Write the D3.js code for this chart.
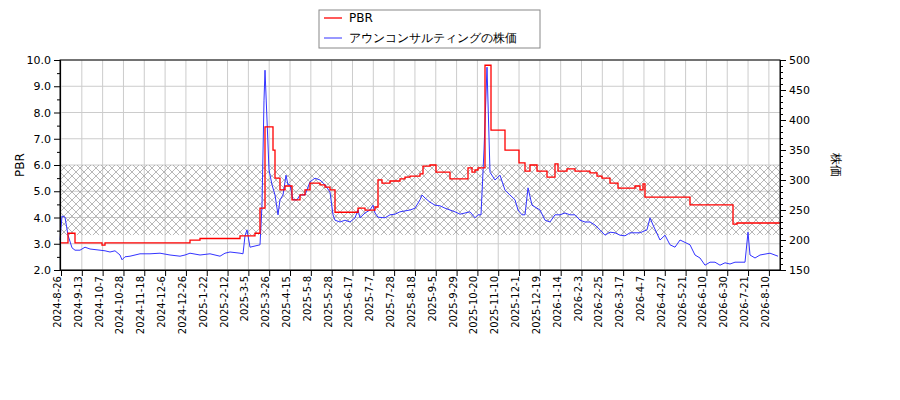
<!DOCTYPE html><html><head><meta charset="utf-8"><script src="https://cdn.jsdelivr.net/npm/d3@7"></script>
<style>body{margin:0;background:#fff}text{font-family:"DejaVu Sans";}</style></head><body><svg id="c" width="900" height="400"></svg><script>
const tickLabels=["2024-8-26","2024-9-13","2024-10-7","2024-10-28","2024-11-18","2024-12-6","2024-12-26","2025-1-22","2025-2-12","2025-3-5","2025-3-26","2025-4-15","2025-5-8","2025-5-28","2025-6-17","2025-7-7","2025-7-28","2025-8-18","2025-9-5","2025-9-29","2025-10-20","2025-11-10","2025-12-1","2025-12-19","2026-1-14","2026-2-3","2026-2-25","2026-3-17","2026-4-7","2026-4-27","2026-5-21","2026-6-10","2026-6-30","2026-7-21","2026-8-10"];
// [session position, price]
const priceData=[[0,200],[2,240],[5,238],[8,208],[12,187],[15,183],[20,183],[25,188],[30,185],[40,183],
[45,182],[50,180],[55,182],[60,175],[62,167],[65,172],[70,173],[80,177],[90,177],[100,178],
[110,175],[120,173],[125,175],[130,178],[140,175],[150,177],[160,173],[165,178],[170,180],[180,178],
[183,177],[185,207],[187,217],[190,188],[195,190],[200,192],[202,258],[204,433],[205,483],[207,400],
[209,317],[212,292],[215,275],[218,242],[220,267],[223,275],[226,308],[228,292],[230,292],[233,267],
[237,267],[240,275],[245,275],[250,297],[255,303],[260,300],[265,292],[270,280],[273,242],[275,233],
[280,230],[285,233],[290,230],[295,237],[298,250],[300,237],[305,245],[310,250],[313,258],[315,245],
[318,238],[325,237],[330,242],[335,243],[340,247],[350,250],[355,253],[360,267],[362,275],[365,270],
[370,263],[375,258],[380,257],[385,253],[390,250],[395,247],[400,243],[405,245],[410,247],[415,237],
[418,242],[421,242],[424,350],[427,488],[430,313],[435,300],[440,308],[445,283],[450,275],[455,267],
[458,250],[462,242],[465,242],[468,287],[472,258],[480,250],[485,233],[490,230],[495,242],[500,242],
[505,245],[510,242],[515,242],[520,233],[525,230],[530,230],[535,225],[540,217],[545,208],[550,213],
[555,212],[560,208],[565,207],[570,212],[580,212],[587,217],[590,237],[593,225],[600,200],[605,208],
[610,192],[615,188],[620,200],[630,192],[635,175],[640,170],[645,158],[650,163],[655,163],[660,158],
[665,162],[670,160],[675,163],[685,163],[688,213],[690,175],[695,170],[700,175],[710,178],[718,173]];
// [session position, PBR]
const pbrData=[[0,3.03],[8,3.4],[15,3.03],[42,2.95],[45,3.03],[130,3.14],[140,3.2],[180,3.3],[195,3.4],[200,4.36],
[205,7.45],[213,6.57],[215,5.5],[220,5.05],[225,5.2],[232,4.67],[240,4.86],[245,5.05],[250,5.31],[260,5.24],
[265,5.16],[270,5.05],[275,4.2],[298,4.36],[305,4.28],[315,4.4],[318,5.43],[322,5.31],[330,5.39],[340,5.47],
[345,5.54],[350,5.58],[360,5.66],[363,5.96],[370,6.0],[376,5.73],[390,5.47],[408,5.89],[412,5.73],[415,5.81],
[418,5.89],[425,9.8],[431,7.33],[445,6.57],[459,6.08],[465,5.77],[470,6.0],[477,5.77],[487,5.54],[495,6.04],
[498,5.77],[507,5.85],[515,5.77],[530,5.7],[537,5.58],[542,5.5],[550,5.31],[558,5.12],[575,5.2],[580,5.05],
[583,5.28],[585,4.78],[630,4.48],[673,3.75],[677,3.79],[720,3.79]];
const bandPbr=[3.33,6.0];
const L=60,R=780,T=60,B=270;
const svg=d3.select("#c");
const x=d3.scaleLinear().domain([0,720]).range([L,R]);
const tickPos=tickLabels.map((d,i)=>1+i*20.82);
const yL=d3.scaleLinear().domain([2,10]).range([B,T]);
const yR=d3.scaleLinear().domain([150,500]).range([B,T]);
const defs=svg.append("defs");
const pat=defs.append("pattern").attr("id","h").attr("width",8).attr("height",8).attr("patternUnits","userSpaceOnUse");
pat.append("path").attr("d","M0,0L8,8M8,0L0,8").attr("stroke","#999").attr("stroke-width",0.7);
const g=svg.append("g");
g.selectAll(".vx").data(tickPos).join("line").attr("x1",d=>x(d)).attr("x2",d=>x(d)).attr("y1",T).attr("y2",B).attr("stroke","#ccc");
g.selectAll(".hy").data(d3.range(2,10.1,1)).join("line").attr("x1",L).attr("x2",R).attr("y1",d=>yL(d)).attr("y2",d=>yL(d)).attr("stroke","#ccc");
svg.append("rect").attr("x",L).attr("width",R-L).attr("y",yL(bandPbr[1])).attr("height",yL(bandPbr[0])-yL(bandPbr[1])).attr("fill","url(#h)");
svg.append("path").datum(priceData).attr("fill","none").attr("stroke","#3333ff").attr("stroke-width",1)
 .attr("d",d3.line().x(d=>x(d[0])).y(d=>yR(d[1])));
svg.append("path").datum(pbrData).attr("fill","none").attr("stroke","red").attr("stroke-width",1.3)
 .attr("d",d3.line().curve(d3.curveStepAfter).x(d=>x(d[0])).y(d=>yL(d[1])));
svg.append("rect").attr("x",L).attr("y",T).attr("width",R-L).attr("height",B-T).attr("fill","none").attr("stroke","#000");
const ax=svg.append("g").attr("transform",`translate(0,${B})`).call(d3.axisBottom(x).tickValues(tickPos).tickFormat((d,i)=>tickLabels[i]).tickSizeOuter(0));
ax.selectAll("text").attr("transform","rotate(-90)").attr("text-anchor","end").attr("x",-6).attr("y",-4).attr("dy","0.35em").style("font-size","10px");
svg.append("g").attr("transform",`translate(${L},0)`).call(d3.axisLeft(yL).ticks(8).tickFormat(d3.format(".1f")).tickSizeOuter(0)).selectAll("text").style("font-size","11px");
svg.append("g").attr("transform",`translate(${L},0)`).call(d3.axisLeft(yL).tickValues(d3.range(2.5,10,1)).tickSize(3).tickFormat(""));
svg.append("g").attr("transform",`translate(${R},0)`).call(d3.axisRight(yR).ticks(7).tickSizeOuter(0)).selectAll("text").style("font-size","11px");
svg.append("g").attr("transform",`translate(${R},0)`).call(d3.axisRight(yR).tickValues(d3.range(160,500,10).filter(v=>v%50)).tickSize(3).tickFormat(""));
svg.selectAll(".domain").attr("stroke","#000");
svg.append("text").attr("transform","translate(24,165) rotate(-90)").attr("text-anchor","middle").style("font-size","12px").text("PBR");
svg.append("text").attr("transform","translate(832,165) rotate(90)").attr("text-anchor","middle").style("font-size","12px").text("株価");
const lg=svg.append("g");
lg.append("rect").attr("x",319).attr("y",10).attr("width",221).attr("height",38).attr("fill","#fff").attr("stroke","#888");
lg.append("line").attr("x1",324).attr("x2",342).attr("y1",18).attr("y2",18).attr("stroke","red").attr("stroke-width",1.3);
lg.append("text").attr("x",349).attr("y",22).style("font-size","12px").text("PBR");
lg.append("line").attr("x1",324).attr("x2",342).attr("y1",38).attr("y2",38).attr("stroke","#3333ff");
lg.append("text").attr("x",349).attr("y",42).style("font-size","12px").text("アウンコンサルティングの株価");
</script></body></html>
